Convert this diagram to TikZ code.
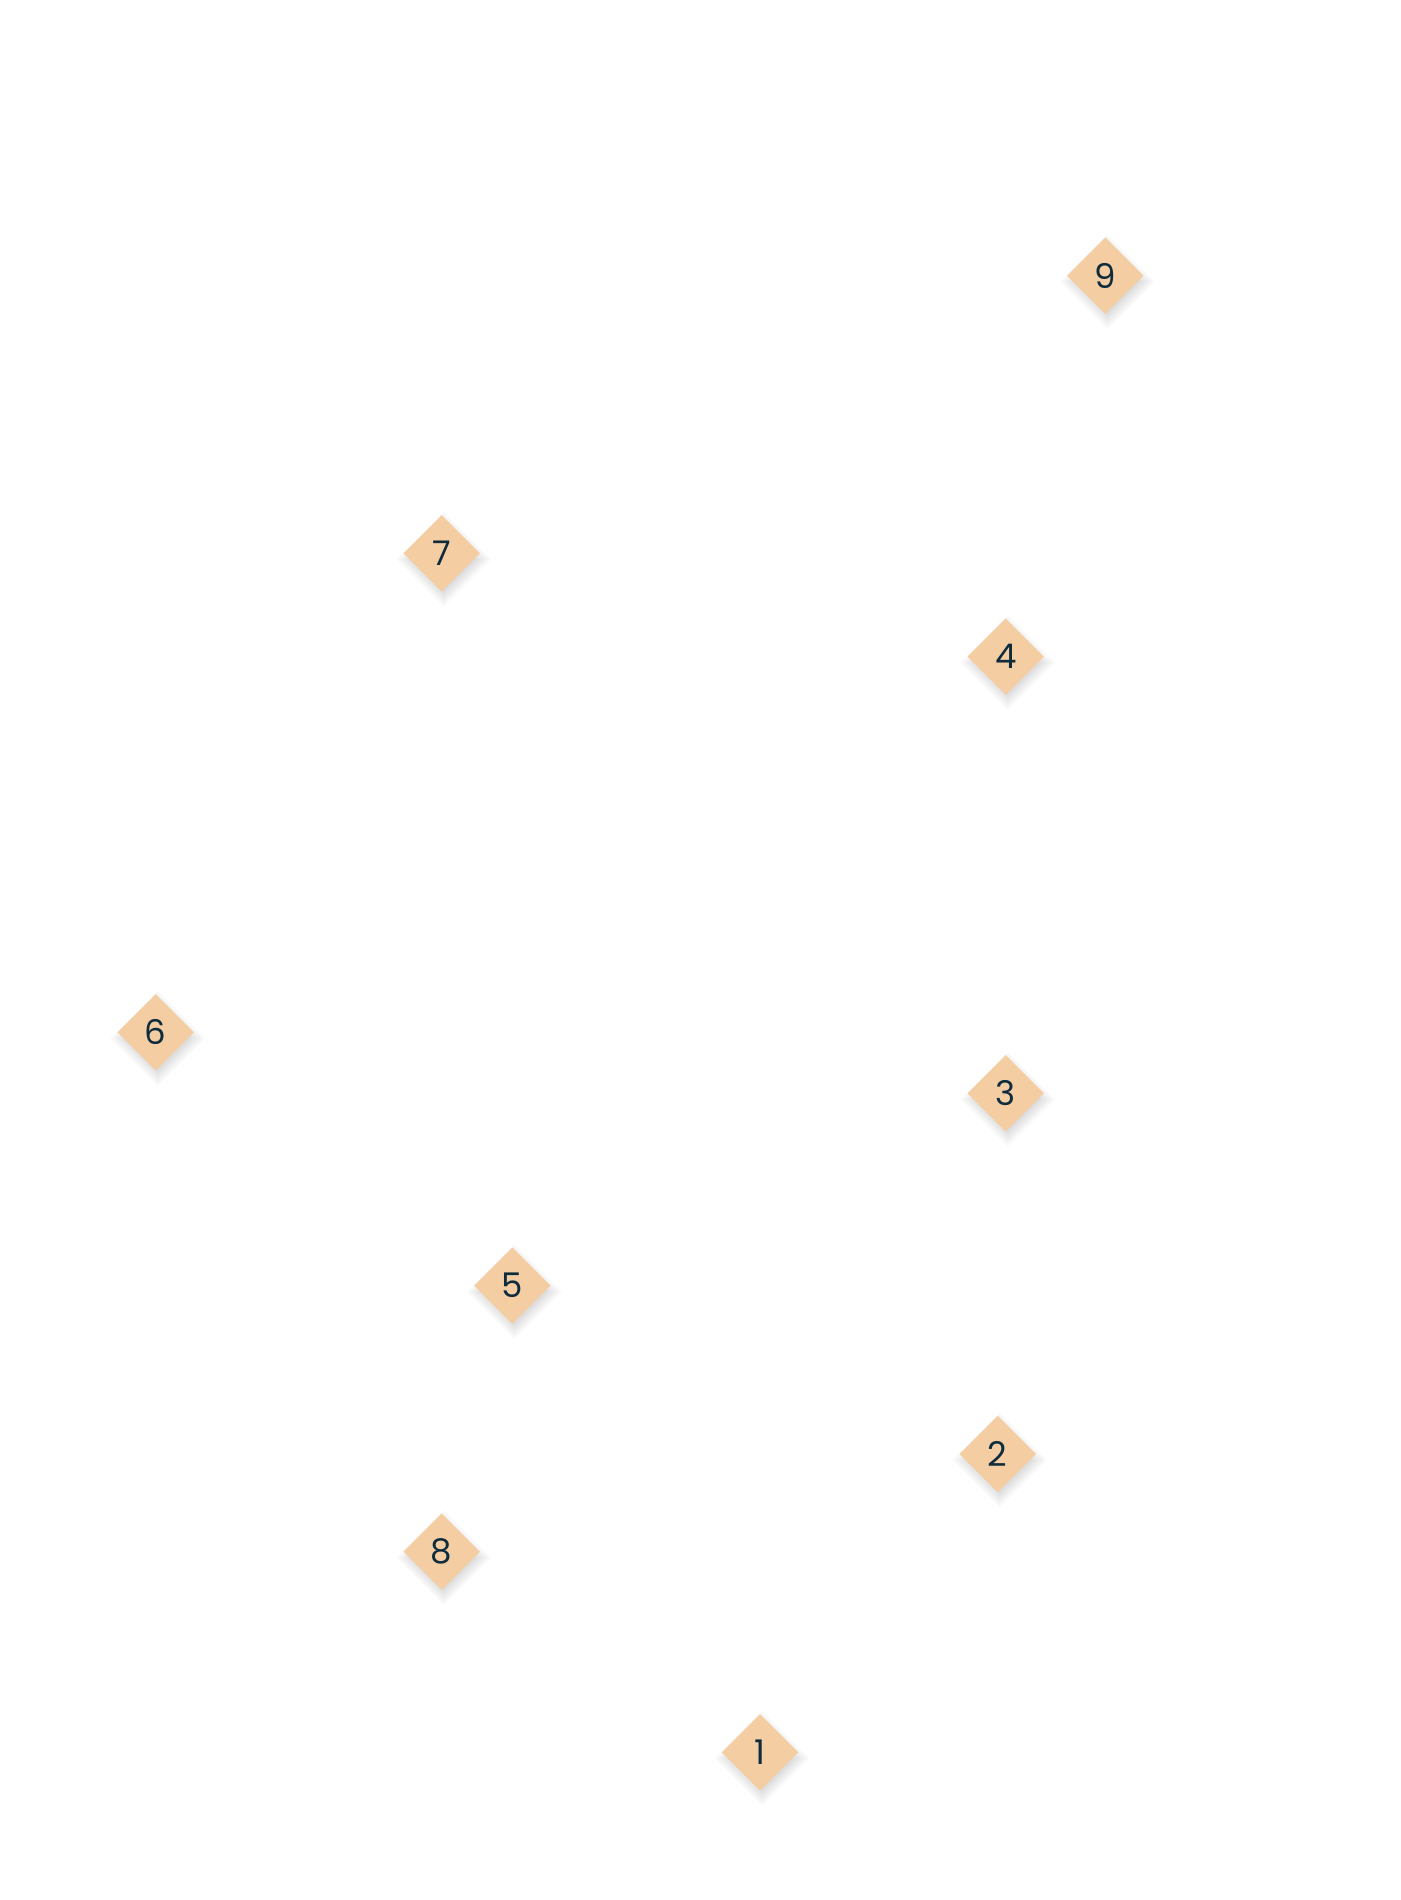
\documentclass[tikz,border=0pt]{standalone}
\usepackage{fontspec}
\setmainfont{Poppins}
\usetikzlibrary{shapes.geometric,backgrounds,calc}
\definecolor{peach}{HTML}{F5CDA3}
\definecolor{ink}{HTML}{0F2C3D}
\tikzset{
  mark diamond/.style={diamond, aspect=1, inner sep=0pt, minimum width=76.6pt, minimum height=76.6pt,
    fill=peach, draw=none, text=ink,
    font=\fontsize{34}{40}\selectfont},
  shadow layer/.style={fill=black, opacity=0.02}
}
\newcommand\softshade[1]{%
  \foreach \r in {30,32.5,...,47.5}{%
    \fill[shadow layer] ($(#1.center)+(2,6)$) +(0,-\r) -- +(\r,0) -- +(0,\r) -- +(-\r,0) -- cycle;}%
}
\begin{document}
\begin{tikzpicture}[x=1pt,y=-1pt]
\useasboundingbox (0,0) rectangle (1400,1900);
\node[mark diamond] (n9) at (1105.3,275.7) {9};
\node[mark diamond] (n7) at (441.7,553.3) {7};
\node[mark diamond] (n4) at (1005.7,656.7) {4};
\node[mark diamond] (n6) at (155.7,1032.3) {6};
\node[mark diamond] (n3) at (1005.7,1093.3) {3};
\node[mark diamond] (n5) at (512.3,1285.7) {5};
\node[mark diamond] (n2) at (997.7,1454) {2};
\node[mark diamond] (n8) at (441.7,1551.7) {8};
\node[mark diamond] (n1) at (760,1752.3) {1};
\begin{pgfonlayer}{background}
\fill[white] (0,0) rectangle (1400,1900);
\foreach \n in {n1,n2,n3,n4,n5,n6,n7,n8,n9}{\softshade{\n}}
\end{pgfonlayer}
\end{tikzpicture}
\end{document}
